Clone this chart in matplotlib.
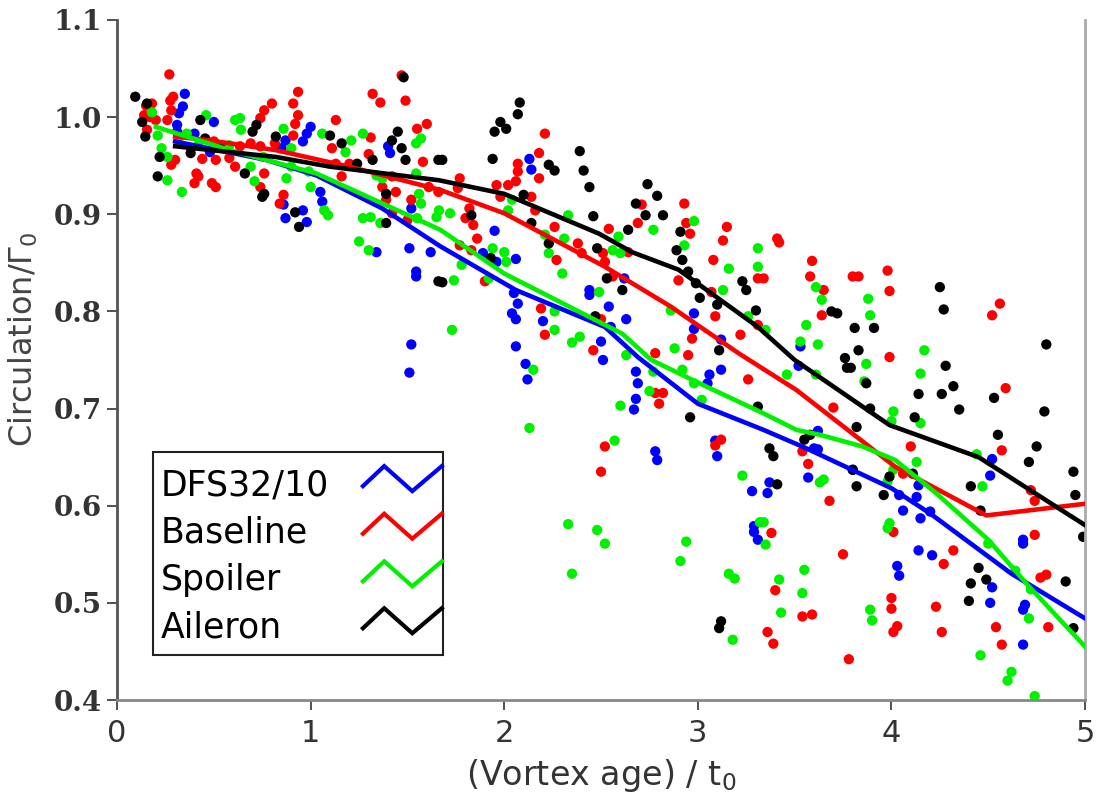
import numpy as np
import matplotlib
matplotlib.use("Agg")
import matplotlib.pyplot as plt
from matplotlib.patches import Rectangle

# scattered measurements (vortex age / t0, circulation / Gamma0)
dfs_x = [0.35, 0.34, 0.32, 0.31, 0.31, 0.40, 0.50, 0.48, 0.85, 0.87, 0.98, 1.00, 0.96, 1.05, 1.06,
         0.86, 0.87, 0.96, 0.98, 1.40, 1.41, 1.52, 1.51, 1.62, 1.34, 1.545, 1.545, 1.52, 1.51,
         2.13, 2.14, 1.95, 1.89, 1.96, 2.06, 2.05, 2.07, 2.04, 2.06, 2.06, 2.20, 2.44, 2.44, 2.54,
         2.63, 2.62, 2.50, 2.55, 2.98, 2.98, 3.12, 3.53,
         2.11, 2.12, 2.68, 2.69, 2.68, 2.67, 2.78, 2.79, 3.12, 3.06, 3.05, 3.09, 3.10, 3.28, 3.29,
         3.29, 3.31, 2.51,
         3.52, 3.62, 3.60, 3.62, 3.57, 3.37, 3.36, 3.80, 4.04, 4.06, 4.14, 4.13, 4.15, 4.20, 4.52,
         4.51, 4.14, 4.21, 4.03, 4.04, 4.52, 4.51, 4.68, 4.68, 4.69, 4.68, 4.68]
dfs_y = [1.024, 1.011, 1.004, 0.992, 0.985, 0.983, 0.995, 0.964, 0.968, 0.976, 0.983, 0.990, 0.975, 0.923, 0.913,
         0.910, 0.896, 0.904, 0.892, 0.970, 0.963, 0.906, 0.865, 0.861, 0.861, 0.841, 0.836, 0.766, 0.737,
         0.957, 0.946, 0.883, 0.860, 0.851, 0.854, 0.819, 0.808, 0.798, 0.792, 0.764, 0.790, 0.822, 0.817, 0.805,
         0.792, 0.834, 0.769, 0.784, 0.798, 0.782, 0.771, 0.764,
         0.746, 0.730, 0.738, 0.726, 0.710, 0.699, 0.656, 0.647, 0.740, 0.735, 0.726, 0.667, 0.651, 0.615, 0.579,
         0.573, 0.565, 0.750,
         0.744, 0.677, 0.659, 0.658, 0.629, 0.624, 0.613, 0.637, 0.611, 0.595, 0.621, 0.609, 0.587, 0.594, 0.648,
         0.631, 0.554, 0.549, 0.538, 0.528, 0.516, 0.500, 0.565, 0.561, 0.498, 0.493, 0.457]

base_x = [0.27, 0.18, 0.15, 0.17, 0.14, 0.20, 0.26, 0.155, 0.275, 0.28, 0.29, 0.30, 0.28, 0.41, 0.42, 0.40,
          0.49, 0.51, 0.44, 0.51, 0.50, 0.58, 0.61, 0.635, 0.69, 0.74, 0.74, 0.76, 0.80, 0.815, 0.76, 0.74,
          0.86, 0.84, 0.935, 0.91, 0.935, 0.92, 0.91, 1.13, 1.11, 1.16, 1.13, 1.20, 1.30, 1.31, 1.32, 1.36,
          1.47, 1.49, 1.55, 1.60, 1.58, 1.37, 1.42, 1.44, 1.39, 1.42, 1.50, 1.52, 1.61, 1.66,
          2.21, 2.18, 2.18, 2.07, 2.07, 2.06, 2.02, 1.96, 1.98, 2.14, 2.16, 1.77, 1.76, 1.82, 1.80, 1.84,
          1.86, 1.77, 1.83, 1.90, 2.26, 2.38, 2.40, 2.51, 2.52, 2.54, 2.56, 2.27, 2.64, 2.71, 2.69, 2.93,
          2.94, 2.96, 3.15, 3.13, 3.08, 2.90, 3.07, 3.09, 3.31, 3.31, 3.22, 2.97, 2.78, 2.50, 2.46, 2.19,
          2.21, 2.95,
          3.41, 3.42, 3.59, 3.58, 3.65, 3.64, 3.80, 3.83, 3.98, 3.99, 4.56, 4.52, 3.99, 3.34,
          2.78, 2.82, 2.80, 2.52, 2.50, 3.12, 3.09, 3.26,
          4.59, 4.57, 3.70, 4.10, 4.06, 4.72, 4.74, 4.74, 3.38, 3.54, 3.57, 3.68, 4.01, 3.75, 4.32, 4.27,
          4.77, 4.80, 3.40, 3.36, 3.39, 3.54, 3.59, 4.00, 4.00, 4.03, 4.01, 4.23, 4.26, 4.54, 4.57, 4.81,
          3.78]
base_y = [1.044, 1.014, 1.012, 1.000, 1.002, 0.997, 0.997, 0.987, 1.017, 1.007, 1.021, 0.956, 0.951, 0.942, 0.939, 0.932,
          0.932, 0.928, 0.957, 0.956, 0.975, 0.958, 0.949, 0.970, 0.973, 0.970, 0.999, 1.007, 1.014, 0.973, 0.942, 0.928,
          0.920, 0.911, 1.026, 1.014, 1.002, 0.993, 0.981, 0.997, 0.968, 0.939, 0.952, 0.952, 0.962, 0.979, 1.024, 1.015,
          1.043, 1.017, 0.988, 0.993, 0.954, 0.928, 0.939, 0.923, 0.915, 0.901, 0.894, 0.915, 0.928, 0.923,
          0.983, 0.963, 0.937, 0.952, 0.944, 0.934, 0.930, 0.930, 0.918, 0.918, 0.904, 0.937, 0.927, 0.906, 0.896, 0.889,
          0.875, 0.868, 0.863, 0.831, 0.887, 0.870, 0.860, 0.860, 0.851, 0.885, 0.836, 0.853, 0.861, 0.910, 0.891, 0.911,
          0.891, 0.880, 0.887, 0.873, 0.853, 0.832, 0.820, 0.795, 0.834, 0.786, 0.776, 0.772, 0.757, 0.792, 0.760, 0.803,
          0.776, 0.755,
          0.875, 0.871, 0.852, 0.836, 0.822, 0.796, 0.836, 0.836, 0.842, 0.821, 0.808, 0.796, 0.753, 0.834,
          0.716, 0.716, 0.705, 0.661, 0.635, 0.668, 0.662, 0.730,
          0.721, 0.657, 0.701, 0.661, 0.633, 0.616, 0.605, 0.570, 0.572, 0.656, 0.643, 0.605, 0.573, 0.550, 0.554, 0.540,
          0.526, 0.529, 0.513, 0.470, 0.458, 0.486, 0.488, 0.505, 0.494, 0.476, 0.470, 0.496, 0.470, 0.475, 0.457, 0.475,
          0.442]

spoil_x = [0.18, 0.21, 0.23, 0.32, 0.26, 0.26, 0.335, 0.36, 0.42, 0.46, 0.61, 0.635, 0.64, 0.58, 0.69, 0.71,
           0.755, 0.86, 0.90, 0.90, 0.875, 0.99, 1.00, 1.07, 1.09, 1.06, 1.18, 1.21, 1.27, 1.25, 1.30, 1.27,
           1.31, 1.36, 1.37, 1.34, 1.545, 1.57, 1.545, 1.56, 1.57, 1.55, 1.65,
           1.663, 1.72, 1.74, 1.78, 1.73, 1.94, 2.00, 2.01, 1.92, 2.04, 2.02, 2.33, 2.21, 2.31, 2.23, 2.30,
           2.49, 2.59, 2.56, 2.60, 2.77, 2.98, 2.93, 2.86, 2.88, 2.35, 2.39, 2.26, 2.26, 2.63, 3.13, 3.16,
           3.31, 3.31, 3.26,
           3.61, 3.64, 3.88, 3.89, 3.56, 3.53, 3.62, 4.17, 3.35,
           2.15, 2.13, 2.60, 2.75, 2.57, 2.77, 2.92, 2.98, 3.02, 3.23, 2.33, 2.48, 2.52, 2.35, 2.94, 2.91,
           3.16, 3.19, 3.18, 3.32,
           3.87, 3.86, 4.15, 3.46, 3.61, 4.01, 4.00, 4.15, 4.13, 4.01, 3.98, 4.44, 4.47, 3.63, 3.65, 3.99,
           3.98, 3.35, 3.34, 3.55, 3.42, 3.54, 3.43, 3.89, 3.90, 4.50, 4.64, 4.72, 4.71, 4.46, 4.62, 4.60,
           4.74]
spoil_y = [1.005, 0.981, 0.968, 0.973, 0.959, 0.935, 0.923, 0.983, 0.971, 1.002, 0.997, 0.999, 0.987, 0.971, 0.949, 0.934,
           0.959, 0.988, 0.968, 0.949, 0.937, 0.944, 0.928, 0.904, 0.899, 0.983, 0.964, 0.976, 0.983, 0.872, 0.863, 0.896,
           0.897, 0.891, 0.937, 0.940, 0.973, 0.978, 0.942, 0.921, 0.911, 0.896, 0.897,
           0.904, 0.901, 0.832, 0.848, 0.781, 0.865, 0.861, 0.851, 0.834, 0.915, 0.904, 0.899, 0.879, 0.875, 0.860, 0.839,
           0.820, 0.877, 0.863, 0.860, 0.884, 0.893, 0.868, 0.801, 0.762, 0.768, 0.774, 0.800, 0.781, 0.755, 0.822, 0.844,
           0.865, 0.846, 0.795,
           0.825, 0.812, 0.813, 0.796, 0.786, 0.769, 0.766, 0.760, 0.781,
           0.740, 0.680, 0.703, 0.718, 0.667, 0.738, 0.740, 0.726, 0.709, 0.631, 0.581, 0.575, 0.561, 0.530, 0.563, 0.543,
           0.530, 0.525, 0.462, 0.583,
           0.746, 0.728, 0.736, 0.735, 0.735, 0.697, 0.687, 0.685, 0.645, 0.637, 0.625, 0.653, 0.620, 0.624, 0.627, 0.582,
           0.577, 0.560, 0.583, 0.534, 0.524, 0.510, 0.490, 0.493, 0.482, 0.561, 0.533, 0.514, 0.484, 0.446, 0.429, 0.420,
           0.404]

ail_x = [0.094, 0.155, 0.13, 0.146, 0.22, 0.21, 0.38, 0.43, 0.455, 0.53, 0.66, 0.70, 0.72, 0.75, 0.76, 0.82,
         0.92, 0.94, 1.10, 1.16, 1.24, 1.32, 1.45, 1.42, 1.47, 1.49, 1.48, 1.66, 1.66, 1.39, 1.39,
         2.08, 2.07, 1.98, 2.01, 1.95, 1.94, 1.68, 2.39, 2.41, 2.44, 2.23, 2.26, 2.10, 2.14, 1.83, 2.46,
         2.23, 2.48, 2.53, 2.61, 2.64, 2.74, 2.79, 2.82, 2.73, 2.68, 2.91, 2.89, 2.92, 2.95, 2.99, 3.01,
         3.10, 3.23, 3.25, 3.30, 3.11, 2.47, 1.68, 1.93,
         4.25, 4.27, 3.69, 3.72, 3.81, 3.91, 3.83, 3.76, 4.80,
         2.96, 3.31, 3.12, 3.11,
         4.28, 4.32, 4.26, 4.14, 4.53, 4.35, 4.79, 4.12, 3.82, 3.89, 4.55, 4.75, 4.71, 4.94, 4.95, 4.99,
         3.80, 3.82, 3.96, 3.99, 4.11, 4.41, 4.46, 4.45, 4.41, 4.49, 4.40, 4.90, 4.94, 3.37, 3.39, 3.41,
         3.55, 3.58, 3.77, 3.79, 3.87]
ail_y = [1.021, 1.014, 0.995, 0.980, 0.959, 0.939, 0.963, 0.997, 0.978, 0.971, 0.942, 0.985, 0.992, 0.918, 0.921, 0.980,
         0.902, 0.887, 0.981, 0.973, 0.952, 0.956, 0.985, 0.976, 0.968, 0.956, 1.041, 0.956, 0.831, 0.921, 0.891,
         1.015, 1.003, 0.995, 0.988, 0.985, 0.957, 0.956, 0.965, 0.945, 0.928, 0.951, 0.945, 0.920, 0.891, 0.899, 0.898,
         0.870, 0.865, 0.834, 0.822, 0.884, 0.931, 0.919, 0.899, 0.899, 0.911, 0.882, 0.863, 0.853, 0.841, 0.829, 0.814,
         0.807, 0.831, 0.822, 0.801, 0.760, 0.795, 0.830, 0.855,
         0.825, 0.802, 0.800, 0.798, 0.783, 0.783, 0.760, 0.752, 0.766,
         0.691, 0.702, 0.481, 0.474,
         0.744, 0.723, 0.715, 0.715, 0.711, 0.699, 0.697, 0.691, 0.681, 0.700, 0.673, 0.661, 0.645, 0.635, 0.611, 0.568,
         0.637, 0.620, 0.611, 0.630, 0.633, 0.620, 0.595, 0.536, 0.520, 0.524, 0.502, 0.522, 0.474, 0.659, 0.651, 0.622,
         0.668, 0.673, 0.742, 0.742, 0.726]

# fitted curves
dfs_fx = [0.3, 0.77, 1.03, 1.37, 1.67, 2.06, 2.52, 2.69, 3.0, 3.34, 3.55, 4.0, 4.2, 4.62, 5.0]
dfs_fy = [0.975, 0.956, 0.94, 0.906, 0.867, 0.822, 0.784, 0.753, 0.705, 0.678, 0.66, 0.618, 0.592, 0.53, 0.484]
base_fx = [0.3, 0.48, 0.82, 1.2, 1.67, 2.0, 2.52, 2.86, 3.21, 3.51, 4.02, 4.49, 5.0]
base_fy = [0.98, 0.976, 0.966, 0.949, 0.925, 0.901, 0.846, 0.805, 0.757, 0.719, 0.64, 0.59, 0.602]
spoil_fx = [0.2, 0.6, 1.03, 1.67, 2.0, 2.61, 2.76, 3.04, 3.34, 3.51, 3.63, 3.85, 4.02, 4.23, 4.5, 4.71, 5.0]
spoil_fy = [0.99, 0.965, 0.942, 0.884, 0.839, 0.777, 0.75, 0.723, 0.695, 0.678, 0.673, 0.661, 0.647, 0.613,
            0.565, 0.517, 0.455]
ail_fx = [0.3, 0.82, 1.10, 1.663, 2.0, 2.49, 2.66, 2.90, 3.31, 3.5, 3.99, 4.45, 5.0]
ail_fy = [0.97, 0.959, 0.949, 0.935, 0.921, 0.88, 0.861, 0.843, 0.784, 0.75, 0.683, 0.65, 0.58]

labels = ["DFS32/10", "Baseline", "Spoiler", "Aileron"]
colors = ["#0000ff", "#ff0000", "#00f000", "#000000"]
points = [(dfs_x, dfs_y), (base_x, base_y), (spoil_x, spoil_y), (ail_x, ail_y)]
fits = [(dfs_fx, dfs_fy), (base_fx, base_fy), (spoil_fx, spoil_fy), (ail_fx, ail_fy)]

fig = plt.figure(figsize=(10.96, 7.99), dpi=100)
ax = fig.add_axes([0.1068, 0.1239, 0.8832, 0.8511])

for (px, py), c in zip(points, colors):
    ax.scatter(px, py, s=55, color=c, edgecolors="none", zorder=2)

for (fx, fy), c in zip(fits, colors):
    ax.plot(fx, fy, color=c, lw=3.3, zorder=3)

ax.set_xlim(0, 5)
ax.set_ylim(0.4, 1.1)
ax.set_xticks(range(6))
yt = np.arange(0.4, 1.11, 0.1)
ax.set_yticks(yt)
ax.set_yticklabels([f"{v:.1f}" for v in yt], family="DejaVu Serif", weight="bold", fontsize=20)
ax.set_xticklabels([str(i) for i in range(6)], fontsize=22)
ax.tick_params(axis="both", direction="out", length=7, width=1.2, colors="#333333")
ax.tick_params(axis="x", pad=7)
ax.tick_params(axis="y", pad=4)

ax.spines["top"].set_visible(False)
ax.spines["left"].set_color("#555555")
ax.spines["left"].set_linewidth(2)
ax.spines["bottom"].set_color("#888888")
ax.spines["bottom"].set_linewidth(2)
ax.spines["right"].set_color("#aaaaaa")
ax.spines["right"].set_linewidth(2)

ax.set_xlabel("(Vortex age) / t$_0$", fontsize=24, color="#333333", labelpad=6)
ax.set_ylabel("Circulation/Γ$_0$", fontsize=23, color="#444444", labelpad=0)
ax.yaxis.set_label_coords(-0.08, 0.53)

# legend box with zigzag keys, labels left-aligned
box = Rectangle((0.037, 0.066), 0.300, 0.299, transform=ax.transAxes,
                facecolor="white", edgecolor="#222222", lw=1.5, zorder=5)
ax.add_patch(box)
row_y = [0.316, 0.246, 0.176, 0.107]
zx = np.array([0.254, 0.276, 0.305, 0.3355])
zy = np.array([-1, 19, -6, 19]) / 680.0
for lab, c, yc in zip(labels, colors, row_y):
    ax.text(0.045, yc, lab, transform=ax.transAxes, fontsize=25, color="black",
            ha="left", va="center", zorder=6)
    ax.plot(zx, yc + zy, transform=ax.transAxes, color=c, lw=3, zorder=6,
            clip_on=False, solid_joinstyle="miter")

fig.savefig("out.png", dpi=100)
